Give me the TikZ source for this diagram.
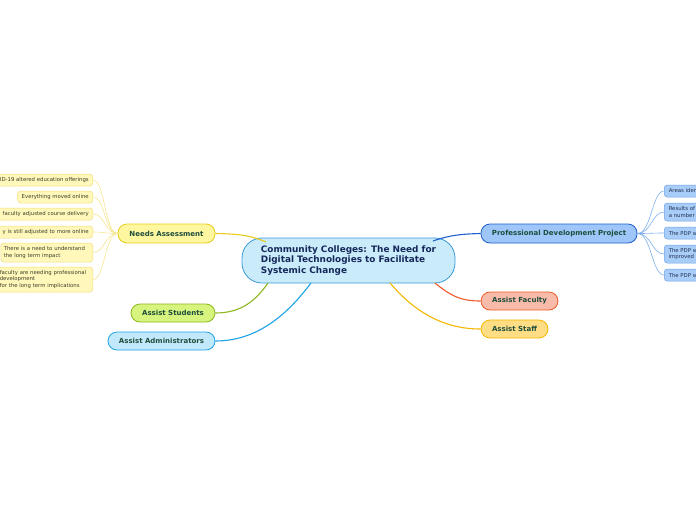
\documentclass[tikz,border=0pt]{standalone}
\usepackage{fontspec}
\setmainfont{DejaVu Sans}
\definecolor{cfill}{HTML}{C9EBFA}
\definecolor{cdraw}{HTML}{3C9AD8}
\definecolor{ctext}{HTML}{16285A}
\definecolor{mtext}{HTML}{1E4D3C}
\definecolor{nafill}{HTML}{FFF6A0}
\definecolor{nadraw}{HTML}{E8CC1A}
\definecolor{lyfill}{HTML}{FFF8BA}
\definecolor{lydraw}{HTML}{F3DE7A}
\definecolor{lyline}{HTML}{F5E690}
\definecolor{lytext}{HTML}{3D3D2A}
\definecolor{pdfill}{HTML}{9EC6F8}
\definecolor{pddraw}{HTML}{1E5FCE}
\definecolor{lbfill}{HTML}{A9CDF9}
\definecolor{lbdraw}{HTML}{6FA3E8}
\definecolor{lbline}{HTML}{80B0EE}
\definecolor{lbtext}{HTML}{1F2F4F}
\definecolor{sfill}{HTML}{D6F47E}
\definecolor{sdraw}{HTML}{8DB71E}
\definecolor{afill}{HTML}{C2E9FB}
\definecolor{adraw}{HTML}{1EA4E6}
\definecolor{ffill}{HTML}{F9BBA9}
\definecolor{fdraw}{HTML}{EF5B2A}
\definecolor{tfill}{HTML}{FFDD85}
\definecolor{tdraw}{HTML}{F5B700}
\begin{document}
\begin{tikzpicture}[x=1pt,y=-1pt,
  mainnode/.style={draw, line width=0.8pt, rounded corners=9pt, minimum height=19pt, inner sep=0pt,
    font=\fontsize{7}{8.5}\selectfont\bfseries, text=mtext},
  yleaf/.style={draw=lydraw, fill=lyfill, line width=0.5pt, rounded corners=3pt, inner xsep=4pt, inner ysep=1pt,
    font=\fontsize{5.35}{6.6}\selectfont, text=lytext, anchor=east},
  bleaf/.style={draw=lbdraw, fill=lbfill, line width=0.5pt, rounded corners=3pt, inner xsep=4.5pt, inner ysep=1pt,
    font=\fontsize{5.35}{6.6}\selectfont, text=lbtext, anchor=west, text width=60pt, align=left},
  yline/.style={draw=lyline, line width=0.6pt},
  bline/.style={draw=lbline, line width=0.6pt},
  conn/.style={line width=1.1pt}
]
\useasboundingbox (0,0) rectangle (696,520);
\clip (0,0) rectangle (696,520);
\fill[white] (0,0) rectangle (696,520);

% central
\node[draw=cdraw, fill=cfill, line width=0.8pt, rounded corners=20pt, minimum width=213pt, minimum height=45pt,
  inner sep=0pt, align=left, font=\fontsize{8.9}{10.5}\selectfont\bfseries, text=ctext] (c) at (348.5,260.5)
  {Community Colleges: The Need for\\Digital Technologies to Facilitate\\Systemic Change};

\coordinate (cNA) at (266,242);
\coordinate (cPD) at (433,241);
\coordinate (cST) at (268,283);
\coordinate (cAD) at (311,283);
\coordinate (cFA) at (435,283);
\coordinate (cSF) at (390,283);

% main branches
\node[mainnode, fill=nafill, draw=nadraw, minimum width=97pt] (na) at (166.5,233.5) {Needs Assessment};
\node[mainnode, fill=pdfill, draw=pddraw, minimum width=156pt] (pd) at (559,233.5) {Professional Development Project};
\node[mainnode, fill=sfill, draw=sdraw, minimum width=84pt, minimum height=18pt] (st) at (173,313) {Assist Students};
\node[mainnode, fill=afill, draw=adraw, minimum width=107pt, minimum height=18pt] (ad) at (161.5,341) {Assist Administrators};
\node[mainnode, fill=ffill, draw=fdraw, minimum width=77pt, minimum height=18pt] (fa) at (519.5,301) {Assist Faculty};
\node[mainnode, fill=tfill, draw=tdraw, minimum width=67pt, minimum height=18pt] (sf) at (514.5,329) {Assist Staff};

\draw[conn, draw=nadraw] (na.east) .. controls (242,234) and (252,236) .. (cNA);
\draw[conn, draw=pddraw] (cPD) .. controls (450,235) and (462,234) .. (pd.west);
\draw[conn, draw=sdraw] (st.east) .. controls (242,313) and (256,300) .. (cST);
\draw[conn, draw=adraw] (ad.east) .. controls (262,341) and (292,308) .. (cAD);
\draw[conn, draw=fdraw] (cFA) .. controls (452,297) and (462,301) .. (fa.west);
\draw[conn, draw=tdraw] (cSF) .. controls (418,316) and (448,329) .. (sf.west);

% left leaves
\node[yleaf, text width=120pt, align=right, minimum height=12pt] (l1) at (93,180) {COVID-19 altered education offerings};
\node[yleaf, minimum height=12pt] (l2) at (93,197) {Everything moved online};
\node[yleaf, text width=120pt, align=right, minimum height=12pt] (l3) at (93,214) {faculty adjusted course delivery};
\node[yleaf, text width=120pt, align=right, minimum height=12pt] (l4) at (93,232) {y is still adjusted to more online};
\node[yleaf, inner xsep=3pt, text width=86pt, align=left, minimum height=19pt] (l5) at (93,252.5) {There is a need to understand\\the long term impact};
\node[yleaf, inner xsep=3pt, text width=90pt, align=left, minimum height=25pt] (l6) at (93,279.5) {faculty are needing professional\\development\\for the long term implications};

\foreach \l in {l1,l2,l3,l4,l5,l6}
  \draw[yline] (na.west) .. controls +(-13,0) and +(12,0) .. (\l.east);

% right leaves
\node[bleaf, minimum height=12pt] (r1) at (664,191) {Areas identified};
\node[bleaf, minimum height=18pt] (r2) at (664,212) {Results of the\\a number of};
\node[bleaf, minimum height=12pt] (r3) at (664,233) {The PDP will};
\node[bleaf, minimum height=18pt] (r4) at (664,254) {The PDP will\\improved};
\node[bleaf, minimum height=12pt] (r5) at (664,275) {The PDP will};

\foreach \r in {r1,r2,r3,r4,r5}
  \draw[bline] (pd.east) .. controls +(14,0) and +(-12,0) .. (\r.west);
\end{tikzpicture}
\end{document}
